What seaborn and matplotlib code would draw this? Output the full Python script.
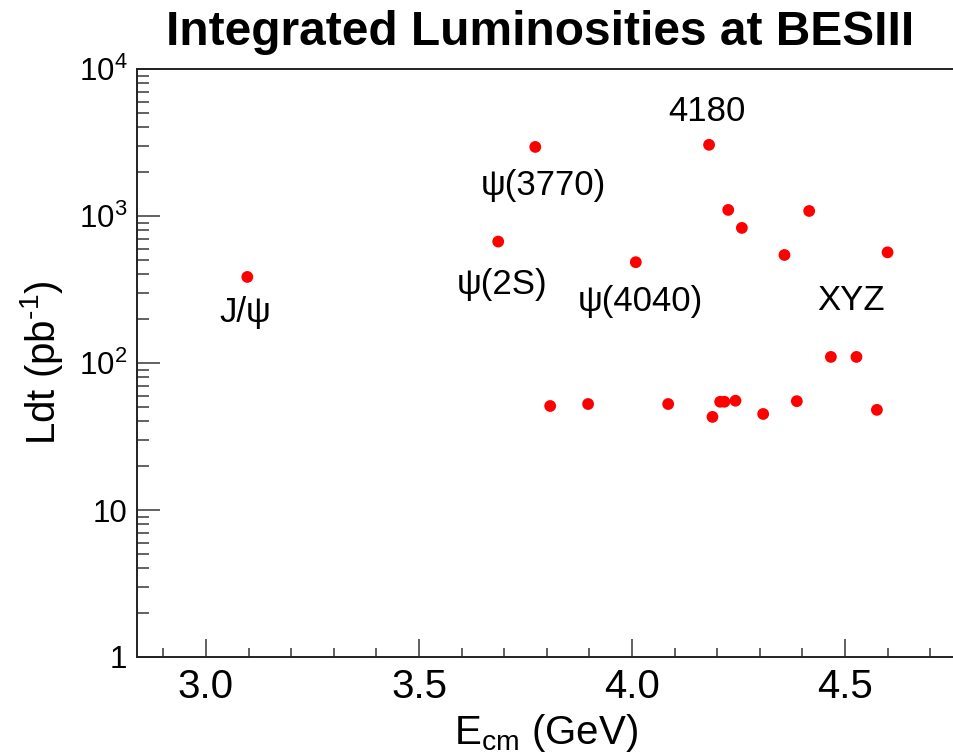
import matplotlib
matplotlib.use("Agg")
import matplotlib.pyplot as plt
import matplotlib.ticker as mticker
import seaborn as sns
import pandas as pd
import numpy as np

# Data
ecm = [3.097, 3.686, 3.773, 4.009, 4.181, 3.808, 3.897, 4.085, 4.189, 4.207,
       4.217, 4.226, 4.243, 4.258, 4.308, 4.358, 4.387, 4.416, 4.467, 4.527,
       4.575, 4.600]
lumi = [385, 670, 2950, 485, 3050, 51, 52.6, 52.6, 43, 54.5,
        54.5, 1100, 55.4, 830, 45, 543, 55, 1082, 110, 110,
        48, 566]

label_text = ["J/ψ", "ψ(2S)", "ψ(3770)", "ψ(4040)", "4180", "XYZ"]
label_x = [3.092, 3.695, 3.791, 4.019, 4.176, 4.514]
label_y = [222, 340, 1625, 260, 5100, 268]

yticks = [1, 10, 100, 1000, 10000]
ytick_labels = ["1", "10", "10$^{2}$", "10$^{3}$", "10$^{4}$"]
xticks = [3.0, 3.5, 4.0, 4.5]
xtick_labels = ["3.0", "3.5", "4.0", "4.5"]

df = pd.DataFrame({"Ecm": ecm, "Lumi": lumi})

sns.set_style("ticks")
plt.rcParams["font.family"] = ["Liberation Sans", "DejaVu Sans"]
plt.rcParams["mathtext.fontset"] = "custom"
plt.rcParams["mathtext.rm"] = "Liberation Sans"
plt.rcParams["mathtext.it"] = "Liberation Sans:italic"
plt.rcParams["mathtext.default"] = "regular"
plt.rcParams["text.color"] = "black"
plt.rcParams["axes.labelcolor"] = "black"

fig = plt.figure(figsize=(9.54, 7.56), dpi=100)
ax = fig.add_axes([137/954, 1-657/756, 1-137/954, (657-69)/756])

sns.scatterplot(data=df, x="Ecm", y="Lumi", ax=ax, color="#ff0000",
                s=72, edgecolor="none", legend=False, zorder=3)

ax.set_yscale("log")
ax.set_ylim(1, 10000)
ax.set_xlim(2.838, 4.756)

ax.set_yticks(yticks)
ax.set_yticklabels(ytick_labels)
ax.yaxis.set_minor_locator(mticker.LogLocator(base=10, subs=np.arange(2, 10)))
ax.yaxis.set_minor_formatter(mticker.NullFormatter())
ax.set_xticks(xticks)
ax.set_xticklabels(xtick_labels)
ax.xaxis.set_minor_locator(mticker.MultipleLocator(0.1))

ax.tick_params(axis="both", which="both", direction="in", colors="#555555",
               labelcolor="black")
ax.tick_params(axis="x", which="major", labelsize=29)
ax.tick_params(axis="y", which="major", labelsize=22.5)
ax.tick_params(axis="y", which="major", length=16.5, width=1.3, pad=7)
ax.tick_params(axis="y", which="minor", length=8.6, width=1.3)
ax.tick_params(axis="x", which="major", length=13, width=1.3, pad=8)
ax.tick_params(axis="x", which="minor", length=6.5, width=1.3)

for side in ["left", "bottom", "top"]:
    ax.spines[side].set_visible(True)
    ax.spines[side].set_linewidth(1.4)
    ax.spines[side].set_color("#222222")
ax.spines["right"].set_visible(False)

ax.set_xlabel("E$_{cm}$ (GeV)", fontsize=29, labelpad=4)
ax.set_ylabel("Ldt (pb$^{\u2010 1}$)", fontsize=29, labelpad=10)

for t, x, y in zip(label_text, label_x, label_y):
    ax.text(x, y, t, fontsize=25, ha="center", va="center", color="black")

fig.text(0.566, 0.957, "Integrated Luminosities at BESIII", fontsize=34.5,
         fontweight="bold", ha="center", va="center", color="black")

fig.savefig("out.png", dpi=100)
